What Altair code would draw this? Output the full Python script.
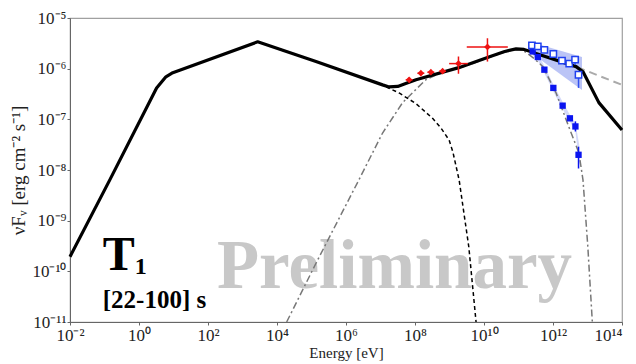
import altair as alt
import pandas as pd

# ---- data (log10 E [eV], log10 nuFnu [erg cm-2 s-1]) ----
main_logE = [-2.0, -0.85, 0.51, 0.78, 0.98, 3.44, 5.13, 7.06, 7.25, 7.5, 7.75, 8.03, 9.27,
             10.14, 10.6, 10.93, 11.16, 11.35, 11.51, 12.67, 12.87, 13.33, 14.0]
main_logF = [-9.71, -8.20, -6.38, -6.16, -6.08, -5.47, -5.86, -6.32, -6.36, -6.35, -6.29, -6.22, -5.98,
             -5.77, -5.66, -5.61, -5.62, -5.66, -5.70, -5.96, -6.06, -6.67, -7.21]

syn_logE = [6.98, 7.54, 8.03, 8.51, 8.75, 8.99, 9.1, 9.28, 9.56, 9.77]
syn_logF = [-6.30, -6.48, -6.69, -6.98, -7.17, -7.41, -7.65, -8.20, -9.52, -11.0]

ic_logE = [4.28, 5.13, 6.37, 7.06, 7.64, 8.31, 8.68, 9.0, 9.6, 10.14, 10.6, 10.93, 11.1,
           11.22, 11.45, 11.71, 12.09, 12.46, 12.75, 12.87, 13.01, 13.14]
ic_logF = [-11.0, -9.84, -8.20, -7.27, -6.67, -6.22, -6.10, -6.03, -5.92, -5.78, -5.67, -5.62, -5.63,
           -5.68, -5.80, -5.96, -6.48, -7.15, -7.66, -8.20, -9.52, -11.0]

ext_logE = [12.7, 14.0]
ext_logF = [-5.97, -6.32]

red_logE = [7.83, 8.17, 8.46, 8.80, 9.26, 10.10]
red_logF = [-6.22, -6.09, -6.07, -6.05, -5.90, -5.57]
red_xlo = [7.73, 8.07, 8.36, 8.70, 8.99, 9.50]
red_xhi = [7.93, 8.27, 8.56, 8.90, 9.53, 10.69]
red_ylo = [-6.26, -6.13, -6.11, -6.09, -6.10, -5.86]
red_yhi = [-6.18, -6.05, -6.03, -6.01, -5.76, -5.40]

obs_logE = [11.41, 11.56, 11.75, 12.01, 12.28, 12.49, 12.65, 12.74]
obs_logF = [-5.66, -5.77, -6.02, -6.38, -6.73, -6.98, -7.14, -7.70]
obs_ylo = [-5.66, -5.77, -6.02, -6.38, -6.73, -6.98, -7.24, -7.97]
obs_yhi = [-5.66, -5.77, -6.02, -6.38, -6.73, -6.98, -7.04, -7.54]

int_logE = [11.39, 11.56, 11.75, 12.01, 12.26, 12.47, 12.64, 12.74]
int_logF = [-5.54, -5.56, -5.63, -5.71, -5.84, -5.90, -5.82, -6.12]
int_ylo = [-5.54, -5.56, -5.63, -5.71, -5.84, -5.90, -5.93, -6.38]
int_yhi = [-5.54, -5.56, -5.63, -5.71, -5.84, -5.90, -5.75, -6.06]

butterfly_logE = [11.33, 12.84]
butterfly_hi = [-5.47, -5.77]
butterfly_lo = [-5.67, -6.42]

pale_logE = [11.38, 11.56, 11.75, 12.01, 12.28, 12.49, 12.65, 12.76]
pale_hi = [-5.58, -5.70, -5.95, -6.31, -6.66, -6.91, -7.08, -7.50]
pale_lo = [-5.72, -5.84, -6.09, -6.45, -6.80, -7.05, -7.24, -7.88]

x_ticks = [-2, 0, 2, 4, 6, 8, 10, 12, 14]
y_ticks = [-11, -10, -9, -8, -7, -6, -5]

ann_text = ["Preliminary", "T", "1", "[22-100] s"]
ann_logE = [2.26, -1.05, -0.12, -1.05]
ann_logF = [-10.33, -9.98, -10.05, -10.73]


def p(v):
    return 10.0 ** v


def curve(le, lf):
    return pd.DataFrame({"E": [p(v) for v in le], "F": [p(v) for v in lf]})


SUP = {'-': '\u207b', '0': '\u2070', '1': '\u00b9', '2': '\u00b2', '3': '\u00b3', '4': '\u2074',
       '5': '\u2075', '6': '\u2076', '7': '\u2077', '8': '\u2078', '9': '\u2079'}


def lab(n):
    return "10" + "".join(SUP[c] for c in str(n))


def label_expr(exps):
    parts = [f"round(log(datum.value)/LN10) == {n} ? '{lab(n)}'" for n in exps]
    return " : ".join(parts) + " : ''"


FONT = "Liberation Serif"

xscale = alt.Scale(type="log", domain=[1e-2, 1e14], nice=False)
yscale = alt.Scale(type="log", domain=[1e-11, 1e-5], nice=False)

xaxis = alt.Axis(values=[p(v) for v in x_ticks], labelExpr=label_expr(x_ticks), title="Energy [eV]",
                 grid=False, tickSize=3, labelPadding=2, labelFontSize=17, labelFont=FONT,
                 titleFont=FONT, titleFontSize=15, titleFontWeight="normal", titlePadding=2,
                 labelColor="#222", titleColor="#222", domainColor="#666", tickColor="#666",
                 labelFlush=False, labelOverlap=False,
                 labelAlign=alt.ConditionalAxisLabelAlign(
                     condition={"test": "datum.value > 1e13", "value": "right"}, value="center"))
yaxis = alt.Axis(values=[p(v) for v in y_ticks], labelExpr=label_expr(y_ticks),
                 title="\u03bdF\u1d65 [erg cm\u207b\u00b2 s\u207b\u00b9]",
                 grid=False, tickSize=3, labelPadding=1, labelFontSize=17, labelFont=FONT,
                 titleFont=FONT, titleFontSize=19, titleFontWeight="normal", titlePadding=3,
                 labelColor="#222", titleColor="#222", domainColor="#666", tickColor="#666",
                 labelFlush=False, labelOverlap=False)

X = alt.X("E:Q", scale=xscale, axis=xaxis)
Y = alt.Y("F:Q", scale=yscale, axis=yaxis)

# annotations
ann = pd.DataFrame({"E": [p(v) for v in ann_logE], "F": [p(v) for v in ann_logF], "t": ann_text})
prelim = alt.Chart(ann.iloc[[0]]).mark_text(font=FONT, fontSize=69, fontWeight="bold", color="#c8c8c8",
                                            align="left", baseline="alphabetic").encode(x=X, y=Y, text="t:N")
tbig = alt.Chart(ann.iloc[[1]]).mark_text(font=FONT, fontSize=48, fontWeight="bold", color="black",
                                          align="left", baseline="alphabetic").encode(x=X, y=Y, text="t:N")
tsub = alt.Chart(ann.iloc[[2]]).mark_text(font=FONT, fontSize=24, fontWeight="bold", color="black",
                                          align="left", baseline="alphabetic").encode(x=X, y=Y, text="t:N")
tint = alt.Chart(ann.iloc[[3]]).mark_text(font=FONT, fontSize=25, fontWeight="bold", color="black",
                                          align="left", baseline="alphabetic").encode(x=X, y=Y, text="t:N")

# bands
pale = pd.DataFrame({"E": [p(v) for v in pale_logE], "F": [p(v) for v in pale_hi],
                     "F2": [p(v) for v in pale_lo]})
pale_band = alt.Chart(pale).mark_area(color="#c9cff7", opacity=0.8).encode(x=X, y=Y, y2="F2:Q")

bfly = pd.DataFrame({"E": [p(v) for v in butterfly_logE], "F": [p(v) for v in butterfly_hi],
                     "F2": [p(v) for v in butterfly_lo]})
bfly_band = alt.Chart(bfly).mark_area(color="#3b55e6", opacity=0.35).encode(x=X, y=Y, y2="F2:Q")

# model curves
ic_line = alt.Chart(curve(ic_logE, ic_logF)).mark_line(color="#777777", strokeWidth=1.5,
                                                       strokeDash=[7, 3, 2, 3]).encode(x=X, y=Y)
syn_line = alt.Chart(curve(syn_logE, syn_logF)).mark_line(color="black", strokeWidth=1.5,
                                                          strokeDash=[4, 3]).encode(x=X, y=Y)
ext_line = alt.Chart(curve(ext_logE, ext_logF)).mark_line(color="#aaaaaa", strokeWidth=2,
                                                          strokeDash=[8, 5]).encode(x=X, y=Y)
main_line = alt.Chart(curve(main_logE, main_logF)).mark_line(color="black", strokeWidth=3.2,
                                                             strokeJoin="round").encode(x=X, y=Y)

# red data points
red = pd.DataFrame({"E": [p(v) for v in red_logE], "F": [p(v) for v in red_logF],
                    "Elo": [p(v) for v in red_xlo], "Ehi": [p(v) for v in red_xhi],
                    "Flo": [p(v) for v in red_ylo], "Fhi": [p(v) for v in red_yhi]})
RED = "#ee1111"
red_xerr = alt.Chart(red).mark_rule(color=RED, strokeWidth=1.5).encode(
    x=alt.X("Elo:Q", scale=xscale, axis=xaxis), x2="Ehi:Q", y=Y)
red_yerr = alt.Chart(red).mark_rule(color=RED, strokeWidth=1.5).encode(
    x=X, y=alt.Y("Flo:Q", scale=yscale, axis=yaxis), y2="Fhi:Q")
red_pts = alt.Chart(red).mark_point(color=RED, filled=True, shape="diamond", size=45, opacity=1).encode(x=X, y=Y)

# blue data
BLUE = "#0a14f0"
obs = pd.DataFrame({"E": [p(v) for v in obs_logE], "F": [p(v) for v in obs_logF],
                    "Flo": [p(v) for v in obs_ylo], "Fhi": [p(v) for v in obs_yhi]})
obs_err = alt.Chart(obs).mark_rule(color=BLUE, strokeWidth=1.5).encode(
    x=X, y=alt.Y("Flo:Q", scale=yscale, axis=yaxis), y2="Fhi:Q")
obs_pts = alt.Chart(obs).mark_square(color=BLUE, filled=True, size=40, opacity=1).encode(x=X, y=Y)

intr = pd.DataFrame({"E": [p(v) for v in int_logE], "F": [p(v) for v in int_logF],
                     "Flo": [p(v) for v in int_ylo], "Fhi": [p(v) for v in int_yhi]})
int_err = alt.Chart(intr).mark_rule(color="#3050f0", strokeWidth=1.5).encode(
    x=X, y=alt.Y("Flo:Q", scale=yscale, axis=yaxis), y2="Fhi:Q")
int_pts = alt.Chart(intr).mark_square(color="#2040f0", fill="white", filled=False, size=40,
                                      strokeWidth=1.5, opacity=1).encode(x=X, y=Y)

chart = alt.layer(
    prelim, tbig, tsub, tint,
    pale_band, bfly_band,
    ic_line, syn_line, ext_line, main_line,
    red_xerr, red_yerr, red_pts,
    obs_err, obs_pts, int_err, int_pts,
).properties(
    width=552, height=304,
    autosize=alt.AutoSizeParams(type="none"),
    padding={"left": 62, "top": 10, "right": 6, "bottom": 40},
    background="white",
).configure_view(stroke="#a0a0a0", strokeWidth=1.2)

chart.save("out.html", embed_options={"renderer": "svg", "actions": False})
